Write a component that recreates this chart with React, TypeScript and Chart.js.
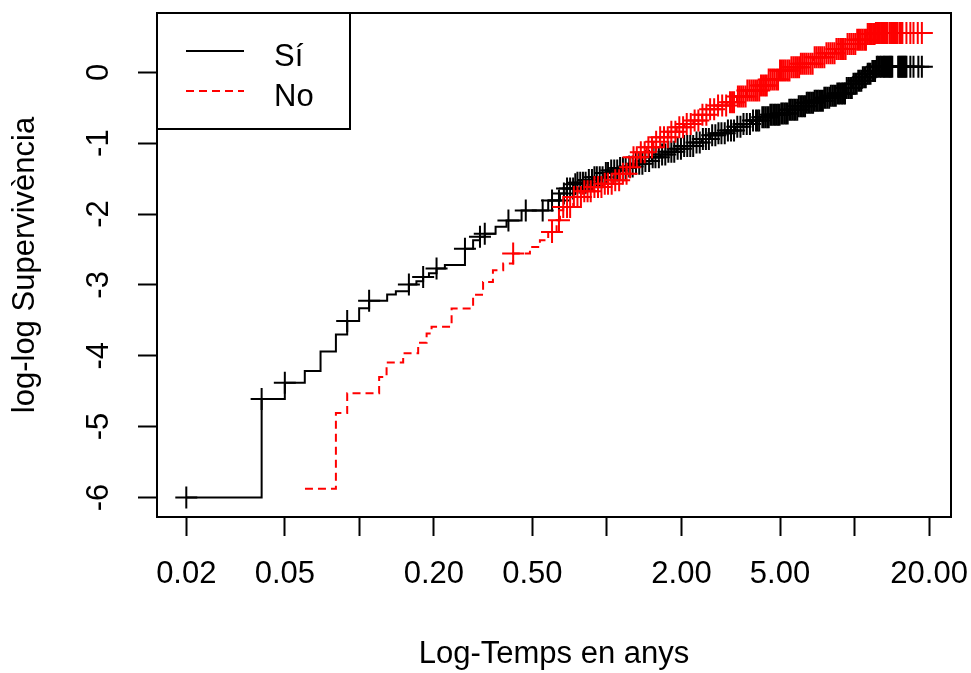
import React, { useEffect, useRef } from 'react';
import { Chart, registerables } from 'chart.js';

Chart.register(...registerables);

const FONT = "'Liberation Sans', Arial, sans-serif";
const FONT_SIZE = 31;

// Axis ticks
const xTickValues = [0.02, 0.05, 0.1, 0.2, 0.5, 1, 2, 5, 10, 20];
const xTickLabels = ['0.02', '0.05', '', '0.20', '0.50', '', '2.00', '5.00', '', '20.00'];
const yTickValues = [-6, -5, -4, -3, -2, -1, 0];
const yTickLabels = ['-6', '-5', '-4', '-3', '-2', '-1', '0'];

const xTitle = 'Log-Temps en anys';
const yTitle = 'log-log Supervivència';
const seriesLabels = ['Sí', 'No'];

// Group "Sí": step curve (time in years, log-log survival)
const siTimes = [0.02, 0.0403, 0.05, 0.0602, 0.0697, 0.0804, 0.0893, 0.0998, 0.1095, 0.1295, 0.1404, 0.1585, 0.17, 0.181, 0.191, 0.205, 0.2215, 0.267, 0.288, 0.307, 0.321, 0.355, 0.393, 0.452, 0.579, 0.646, 0.687, 0.731, 0.754, 0.828, 0.88, 0.966, 1.028, 1.128, 1.201, 1.30, 1.402, 1.52, 1.637, 1.77, 1.912, 2.05, 2.232, 2.42, 2.608, 2.8, 3.045, 3.3, 3.554, 3.85, 4.151, 4.55, 5.0, 5.4, 5.9, 6.4, 6.817, 7.5, 8.0, 8.476, 9.3, 9.8, 10.21, 10.7, 11.2, 11.7, 12.3, 18.7];
const siValues = [-6.0, -4.61, -4.38, -4.215, -3.94, -3.70, -3.51, -3.33, -3.225, -3.135, -3.09, -2.995, -2.95, -2.89, -2.835, -2.77, -2.72, -2.49, -2.37, -2.32, -2.28, -2.18, -2.09, -1.95, -1.81, -1.71, -1.64, -1.58, -1.56, -1.52, -1.48, -1.42, -1.385, -1.35, -1.33, -1.29, -1.25, -1.20, -1.16, -1.12, -1.08, -1.04, -0.99, -0.94, -0.89, -0.86, -0.82, -0.77, -0.73, -0.68, -0.635, -0.60, -0.58, -0.53, -0.48, -0.43, -0.40, -0.36, -0.33, -0.30, -0.22, -0.16, -0.12, -0.07, -0.02, 0.02, 0.08, 0.08];
// Group "Sí": censoring times
const siCensor = [0.02, 0.0403, 0.05, 0.0893, 0.1095, 0.1585, 0.181, 0.205, 0.267, 0.307, 0.321, 0.40, 0.47, 0.55, 0.60, 0.64, 0.67, 0.69, 0.71, 0.73, 0.745, 0.76, 0.78, 0.80, 0.82, 0.845, 0.87, 0.89, 0.91, 0.935, 0.96, 0.99, 1.01, 1.04, 1.07, 1.10, 1.13, 1.16, 1.19, 1.23, 1.27, 1.31, 1.35, 1.39, 1.43, 1.48, 1.53, 1.57, 1.62, 1.67, 1.72, 1.77, 1.82, 1.87, 1.93, 1.99, 2.05, 2.11, 2.17, 2.23, 2.30, 2.37, 2.44, 2.51, 2.58, 2.66, 2.74, 2.82, 2.90, 2.99, 3.08, 3.17, 3.26, 3.36, 3.46, 3.56, 3.67, 3.78, 3.89, 4.0, 4.12, 4.24, 4.37, 4.5, 4.63, 4.77, 4.91, 5.06, 5.21, 5.37, 5.53, 5.7, 5.87, 6.04, 6.22, 6.41, 6.6, 6.8, 7.0, 7.2, 7.45, 7.65, 7.9, 8.15, 8.4, 8.65, 8.9, 9.15, 9.45, 9.75, 10.05, 10.35, 10.65, 10.95, 11.3, 11.6, 11.95, 12.3, 12.65, 13.0, 13.3, 13.6, 13.9, 14.2, 15.0, 15.3, 15.6, 15.9, 16.2, 16.8, 17.3, 18.1, 18.7];
const siCensorDense = [4.06, 4.3, 4.44, 4.57, 4.7, 4.84, 4.98, 5.13, 5.29, 5.45, 5.61, 5.78, 5.95, 6.13, 6.31, 6.5, 6.7, 6.9, 7.1, 7.32, 7.55, 7.77, 8.02, 8.27, 8.52, 8.77, 9.02, 9.3, 9.6, 9.9, 10.2, 10.5, 10.8, 11.1, 11.45, 11.8, 12.1, 12.45, 12.8, 13.15, 13.45, 13.75, 14.05, 15.15, 15.45, 15.75, 16.05];

// Group "No": step curve
const noTimes = [0.0603, 0.0804, 0.0893, 0.1202, 0.1288, 0.1503, 0.1728, 0.1869, 0.1957, 0.2358, 0.288, 0.316, 0.3463, 0.381, 0.418, 0.4886, 0.536, 0.579, 0.626, 0.646, 0.666, 0.731, 0.80, 0.8805, 0.966, 1.06, 1.13, 1.201, 1.277, 1.36, 1.447, 1.54, 1.637, 1.77, 1.912, 2.06, 2.232, 2.42, 2.608, 2.8, 3.045, 3.35, 3.667, 4.151, 4.5, 5.0, 5.5, 6.0, 6.817, 7.6, 8.4, 9.3, 10.2, 11.2, 12.1, 18.7];
const noValues = [-5.877, -4.81, -4.53, -4.30, -4.096, -3.966, -3.817, -3.685, -3.592, -3.332, -3.14, -2.958, -2.793, -2.70, -2.558, -2.465, -2.37, -2.254, -2.089, -1.948, -1.90, -1.76, -1.68, -1.62, -1.572, -1.525, -1.43, -1.34, -1.20, -1.13, -1.056, -0.98, -0.915, -0.84, -0.775, -0.73, -0.68, -0.60, -0.52, -0.47, -0.423, -0.34, -0.258, -0.187, -0.10, 0.024, 0.07, 0.12, 0.211, 0.27, 0.33, 0.40, 0.46, 0.54, 0.555, 0.555];
// Group "No": censoring times
const noCensor = [0.418, 0.60, 0.64, 0.666, 0.69, 0.71, 0.735, 0.76, 0.785, 0.81, 0.835, 0.86, 0.89, 0.92, 0.95, 0.98, 1.01, 1.045, 1.08, 1.12, 1.16, 1.2, 1.24, 1.28, 1.32, 1.37, 1.42, 1.47, 1.52, 1.58, 1.64, 1.7, 1.76, 1.82, 1.89, 1.96, 2.03, 2.1, 2.18, 2.26, 2.34, 2.43, 2.52, 2.61, 2.71, 2.81, 2.92, 3.03, 3.14, 3.26, 3.38, 3.5, 3.63, 3.76, 3.9, 4.04, 4.19, 4.35, 4.5, 4.66, 4.83, 5.0, 5.18, 5.37, 5.56, 5.76, 5.97, 6.18, 6.4, 6.65, 6.9, 7.15, 7.4, 7.7, 8.0, 8.3, 8.6, 8.9, 9.2, 9.55, 9.9, 10.25, 10.6, 10.95, 11.3, 11.6, 11.9, 12.2, 12.5, 12.8, 13.1, 13.4, 13.9, 14.3, 14.7, 15.2, 15.6, 16.2, 16.8, 17.3, 18.0, 18.7];
const noCensorDense = [3.2, 3.44, 3.56, 3.69, 3.83, 3.97, 4.12, 4.27, 4.42, 4.58, 4.74, 4.91, 5.09, 5.27, 5.46, 5.66, 5.86, 6.07, 6.29, 6.52, 6.77, 7.02, 7.27, 7.55, 7.85, 8.15, 8.45, 8.75, 9.05, 9.37, 9.72, 10.07, 10.42, 10.77, 11.12, 11.45, 11.75, 12.05, 12.35, 12.65, 12.95, 13.25, 13.6, 14.1, 14.5, 14.9, 15.4];

const stepAt = (times: number[], values: number[], t: number) => {
  let v = values[0];
  for (let i = 0; i < times.length; i++) {
    if (times[i] <= t + 1e-9) v = values[i];
  }
  return v;
};

const boxPlugin = {
  id: 'rBox',
  afterDatasetsDraw(chart: any) {
    const { ctx, chartArea } = chart;
    ctx.save();
    ctx.lineWidth = 2;
    ctx.strokeStyle = '#000';
    ctx.setLineDash([]);
    ctx.strokeRect(chartArea.left, chartArea.top, chartArea.right - chartArea.left, chartArea.bottom - chartArea.top);
    ctx.restore();
  },
};

const legendPlugin = {
  id: 'rLegend',
  afterDraw(chart: any) {
    const { ctx, chartArea } = chart;
    const x0 = chartArea.left;
    const y0 = chartArea.top;
    ctx.save();
    ctx.fillStyle = '#fff';
    ctx.fillRect(x0, y0, 193, 116);
    ctx.lineWidth = 2;
    ctx.strokeStyle = '#000';
    ctx.setLineDash([]);
    ctx.strokeRect(x0, y0, 193, 116);
    seriesLabels.forEach((lab, i) => {
      const ds = chart.data.datasets[i];
      const y = y0 + 38 + i * 40;
      ctx.strokeStyle = ds.borderColor;
      ctx.lineWidth = 2;
      ctx.setLineDash(ds.borderDash || []);
      ctx.beginPath();
      ctx.moveTo(x0 + 29, y);
      ctx.lineTo(x0 + 87, y);
      ctx.stroke();
      ctx.setLineDash([]);
      ctx.fillStyle = '#000';
      ctx.font = `${FONT_SIZE}px ${FONT}`;
      ctx.textBaseline = 'alphabetic';
      ctx.textAlign = 'left';
      ctx.fillText(lab, x0 + 117, y + 15);
    });
    ctx.restore();
  },
};

export default function App() {
  const canvasRef = useRef<HTMLCanvasElement | null>(null);

  useEffect(() => {
    const canvas = canvasRef.current;
    if (!canvas) return;
    const font = { family: FONT, size: FONT_SIZE };
    const siMarks = siCensor.concat(siCensorDense);
    const noMarks = noCensor.concat(noCensorDense);

    const chart = new Chart(canvas, {
      type: 'line',
      data: {
        datasets: [
          {
            label: seriesLabels[0],
            data: siTimes.map((t, i) => ({ x: t, y: siValues[i] })),
            borderColor: '#000000',
            borderWidth: 2,
            pointRadius: 0,
            stepped: 'before',
            fill: false,
            order: 4,
          },
          {
            label: seriesLabels[1],
            data: noTimes.map((t, i) => ({ x: t, y: noValues[i] })),
            borderColor: '#FF0000',
            borderWidth: 2,
            borderDash: [8, 5],
            pointRadius: 0,
            stepped: 'before',
            fill: false,
            order: 2,
          },
          {
            label: seriesLabels[0] + ' censura',
            data: siMarks.map((t) => ({ x: t, y: stepAt(siTimes, siValues, t) })),
            showLine: false,
            pointStyle: 'cross',
            pointRadius: 11,
            pointBorderWidth: 2,
            pointBorderColor: '#000000',
            borderColor: '#000000',
            order: 3,
          },
          {
            label: seriesLabels[1] + ' censura',
            data: noMarks.map((t) => ({ x: t, y: stepAt(noTimes, noValues, t) })),
            showLine: false,
            pointStyle: 'cross',
            pointRadius: 11,
            pointBorderWidth: 2,
            pointBorderColor: '#FF0000',
            borderColor: '#FF0000',
            order: 1,
          },
        ],
      },
      options: {
        responsive: false,
        animation: false,
        devicePixelRatio: 1,
        events: [],
        layout: { padding: { left: 0, top: 12, right: 20, bottom: 0 } },
        plugins: {
          legend: { display: false },
          tooltip: { enabled: false },
        },
        scales: {
          x: {
            type: 'logarithmic',
            min: 0.01523,
            max: 24.52,
            afterBuildTicks: (s: any) => {
              s.ticks = xTickValues.map((v) => ({ value: v }));
            },
            afterFit: (s: any) => {
              s.height = 156;
              s.paddingLeft = 0;
              s.paddingRight = 0;
            },
            ticks: {
              callback: (_v: any, i: number) => xTickLabels[i],
              autoSkip: false,
              maxRotation: 0,
              minRotation: 0,
              font,
              color: '#000',
              padding: 20,
            },
            grid: {
              drawOnChartArea: false,
              drawTicks: true,
              tickLength: 19,
              tickColor: '#000',
              tickWidth: 2,
            },
            border: { display: false },
            title: {
              display: true,
              text: xTitle,
              font,
              color: '#000',
              padding: { top: 0, bottom: 0 },
            },
          },
          y: {
            type: 'linear',
            min: -6.276,
            max: 0.837,
            afterBuildTicks: (s: any) => {
              s.ticks = yTickValues.map((v) => ({ value: v }));
            },
            afterFit: (s: any) => {
              s.width = 157;
              s.paddingTop = 0;
              s.paddingBottom = 0;
            },
            ticks: {
              callback: (_v: any, i: number) => yTickLabels[i],
              minRotation: 90,
              maxRotation: 90,
              crossAlign: 'center',
              font,
              color: '#000',
              padding: 25,
            },
            grid: {
              drawOnChartArea: false,
              drawTicks: true,
              tickLength: 19,
              tickColor: '#000',
              tickWidth: 2,
            },
            border: { display: false },
            title: {
              display: true,
              text: yTitle,
              font,
              color: '#000',
              padding: { top: 7, bottom: 0 },
            },
          },
        },
      },
      plugins: [boxPlugin, legendPlugin],
    } as any);

    return () => chart.destroy();
  }, []);

  return (
    <div style={{ position: 'absolute', left: 0, top: 0, width: 971, height: 673, background: '#fff' }}>
      <canvas ref={canvasRef} width={971} height={673} style={{ display: 'block' }} />
    </div>
  );
}
